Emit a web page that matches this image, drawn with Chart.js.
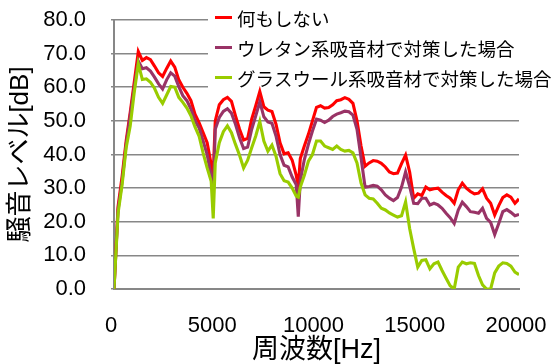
<!DOCTYPE html>
<html>
<head>
<meta charset="utf-8">
<script src="https://cdn.jsdelivr.net/npm/chart.js@4.4.0/dist/chart.umd.min.js"></script>
<style>
  html, body { margin: 0; padding: 0; background: #ffffff; }
  canvas { display: block; }
</style>
</head>
<body>
<canvas id="chart" width="554" height="364"></canvas>
<script>
// Frequency axis of the measured spectra [Hz]
const freqHz = [
  0, 200, 400, 600, 800, 1000, 1200, 1400, 1600, 1800,
  2000, 2200, 2400, 2600, 2800, 3000, 3200, 3400, 3600, 3800,
  4000, 4200, 4400, 4600, 4800, 4900, 5000, 5200, 5400, 5600, 5800,
  6000, 6200, 6400, 6600, 6800, 7000, 7200, 7400, 7600, 7800,
  8000, 8200, 8400, 8600, 8800, 9000, 9100, 9200, 9400, 9600, 9800,
  10000, 10200, 10400, 10600, 10800, 11000, 11200, 11400, 11600, 11800,
  12000, 12200, 12400, 12600, 12800, 13000, 13200, 13400, 13600, 13800,
  14000, 14200, 14400, 14600, 14800, 15000, 15200, 15400, 15600, 15800,
  16000, 16200, 16400, 16600, 16800, 17000, 17200, 17400, 17600, 17800,
  18000, 18200, 18400, 18600, 18800, 19000, 19200, 19400, 19600, 19800,
  20000
];

// Noise level [dB] – no treatment
const noTreatment = [
  0, 24.5, 33.5, 44, 52.5, 61.5, 70.6, 68, 68.8, 68.2,
  66.3, 64.3, 63.2, 65.6, 67.8, 66, 62.2, 60, 58.2, 56,
  52, 49.5, 46.5, 43.5, 37, 34, 50, 54.8, 56.3, 57, 55.8,
  51.5, 47.5, 44.3, 44.8, 50.5, 54.5, 58.7, 54.2, 53.2, 52.8,
  49, 43.5, 40.2, 40.5, 38.3, 33.8, 30.5, 38.8, 42.5, 46, 50,
  54, 54.5, 53.8, 54, 54.8, 56, 56.3, 56.9, 56.4, 55.2,
  50, 42.5, 36.5, 37.5, 38.2, 38, 37.4, 36.3, 34.8, 34.3,
  34.5, 37.3, 39.8, 34.8, 27, 28.3, 27.8, 30.3, 29.5, 29.8,
  30, 28.8, 27.8, 27, 25.5, 29.5, 31.5, 30, 29, 28.3,
  28.5, 29.8, 27, 25.5, 22, 24.8, 27.2, 28, 27.3, 25.5,
  26.8
];

// Noise level [dB] – urethane absorber
const urethane = [
  0, 23.5, 32, 43, 51.5, 60, 67.8, 65.5, 65.8, 64.8,
  63, 61, 59.5, 62.2, 64.3, 63.3, 60.2, 57.5, 56, 53.5,
  50, 48, 44, 40, 33.5, 27.5, 47.5, 51, 52.8, 53.6, 52.3,
  49, 45, 41.8, 42.2, 47.5, 51.5, 55.7, 51.2, 49.7, 49.3,
  45.5, 40, 36.8, 36.3, 33.3, 31, 21.5, 32.3, 38.5, 43, 47,
  50.5, 50.2, 49.5, 50.2, 51.3, 52, 52.4, 52.9, 52.7, 51.7,
  47.5, 39, 30.3, 30.5, 30.8, 30.6, 29.5, 28, 27, 26.3,
  27.2, 30.3, 34.8, 30.5, 25.5, 25.4, 27, 27, 25, 25.5,
  25, 24, 22.5, 21.2, 19.5, 23.5, 25.8, 24.5, 23, 22.8,
  22.5, 24, 21, 19.8, 16.2, 19.5, 23, 23.6, 22.8, 21.8,
  22.2
];

// Noise level [dB] – glass wool absorber
const glassWool = [
  0, 22.5, 31, 42, 48.5, 58.5, 67, 62.3, 62.5, 61.5,
  59.7, 57, 55.2, 57.7, 60.2, 60, 57, 55.5, 53.8, 51.5,
  48.2, 45.5, 40.5, 36, 32, 21, 37.5, 43.5, 46.8, 48.5, 46.5,
  43, 39.8, 36, 38.3, 42, 45.5, 49.8, 44, 41, 42.8,
  39.5, 34.3, 32.2, 31.8, 30, 27.6, 27.3, 30.3, 33.8, 38, 40,
  44, 44, 42.5, 42, 41.5, 42.5, 41.5, 41, 41.2, 40.5,
  37.5, 31.5, 28, 27, 26.8, 25.5, 24, 23.5, 22.6, 22,
  21.4, 21.8, 25.9, 18, 12, 6.5, 8.5, 8.7, 6, 7.5,
  8, 5.5, 3.2, 1, 0, 6.5, 8, 7.5, 7.8, 7.6,
  4, 1.2, 0, 0, 4.8, 6.8, 7.8, 7.6, 6.8, 5,
  4.3
];

const seriesNames = [
  '何もしない',
  'ウレタン系吸音材で対策した場合',
  'グラスウール系吸音材で対策した場合'
];
const seriesColors = ['#FF0000', '#993366', '#99CC00'];
const xTickValues = [0, 5000, 10000, 15000, 20000];
const yTickValues = [0, 10, 20, 30, 40, 50, 60, 70, 80];
const xTitle = '周波数[Hz]';
const yTitle = '騒音レベル[dB]';

const numFont = '"Liberation Sans", "Noto Sans CJK JP", sans-serif';
const jpFont = '"Noto Sans CJK JP", sans-serif';
const gridGray = '#878787';

const toPoints = vals => freqHz.map((f, i) => ({ x: f, y: vals[i] }));

// Legend drawn over the upper-right of the plot on a white panel
const legendPanel = {
  id: 'legendPanel',
  beforeDatasetsDraw(chart) {
    const ctx = chart.ctx;
    ctx.save();
    ctx.fillStyle = '#ffffff';
    ctx.fillRect(208, 0, chart.width - 208, 88.6);
    ctx.restore();
  },
  afterDatasetsDraw(chart) {
    const ctx = chart.ctx;
    ctx.save();
    ctx.font = '18.5px ' + jpFont;
    ctx.textBaseline = 'middle';
    ctx.textAlign = 'left';
    seriesNames.forEach((name, i) => {
      const y = 17.5 + i * 30;
      ctx.strokeStyle = seriesColors[i];
      ctx.lineWidth = 3;
      ctx.beginPath();
      ctx.moveTo(215, y);
      ctx.lineTo(232, y);
      ctx.stroke();
      ctx.fillStyle = '#000000';
      ctx.fillText(name, 237, y + 1);
    });
    ctx.restore();
  }
};

const datasets = [noTreatment, urethane, glassWool].map((vals, i) => ({
  label: seriesNames[i],
  data: toPoints(vals),
  borderColor: seriesColors[i],
  backgroundColor: seriesColors[i],
  borderWidth: 3.1,
  pointRadius: 0,
  tension: 0,
  order: 2 - i
}));

new Chart(document.getElementById('chart'), {
  type: 'line',
  data: { datasets },
  plugins: [legendPanel],
  options: {
    responsive: false,
    animation: false,
    devicePixelRatio: 1,
    layout: { padding: { left: 0, right: 35, top: 20, bottom: 0 } },
    plugins: {
      legend: { display: false },
      tooltip: { enabled: false }
    },
    scales: {
      x: {
        type: 'linear',
        min: 0,
        max: 20000,
        afterBuildTicks(scale) { scale.ticks = xTickValues.map(v => ({ value: v })); },
        afterFit(scale) {
          scale.height = 75;
          scale.paddingLeft = 0;
          scale.paddingRight = 0;
        },
        grid: { display: false, drawTicks: false },
        border: { display: true, color: gridGray, width: 2 },
        ticks: {
          autoSkip: false,
          maxRotation: 0,
          padding: 24,
          labelOffset: -3,
          color: '#000000',
          font: { family: numFont, size: 22 },
          callback: v => String(v)
        },
        title: {
          display: true,
          text: xTitle,
          color: '#000000',
          font: { family: numFont, size: 27, lineHeight: 1 },
          padding: { top: 0, bottom: 0 }
        }
      },
      y: {
        min: 0,
        max: 80,
        afterBuildTicks(scale) { scale.ticks = yTickValues.map(v => ({ value: v })); },
        afterFit(scale) {
          scale.width = 114;
          scale.paddingTop = 0;
          scale.paddingBottom = 0;
        },
        grid: { color: gridGray, lineWidth: 1.6, drawTicks: true, tickLength: 3 },
        border: { display: true, color: gridGray, width: 2 },
        ticks: {
          padding: 25,
          color: '#000000',
          font: { family: numFont, size: 22 },
          callback: v => Number(v).toFixed(1)
        },
        title: {
          display: true,
          text: yTitle,
          color: '#000000',
          font: { family: numFont, size: 26, lineHeight: 1 },
          padding: { top: 8, bottom: 0 }
        }
      }
    }
  }
});
</script>
</body>
</html>
